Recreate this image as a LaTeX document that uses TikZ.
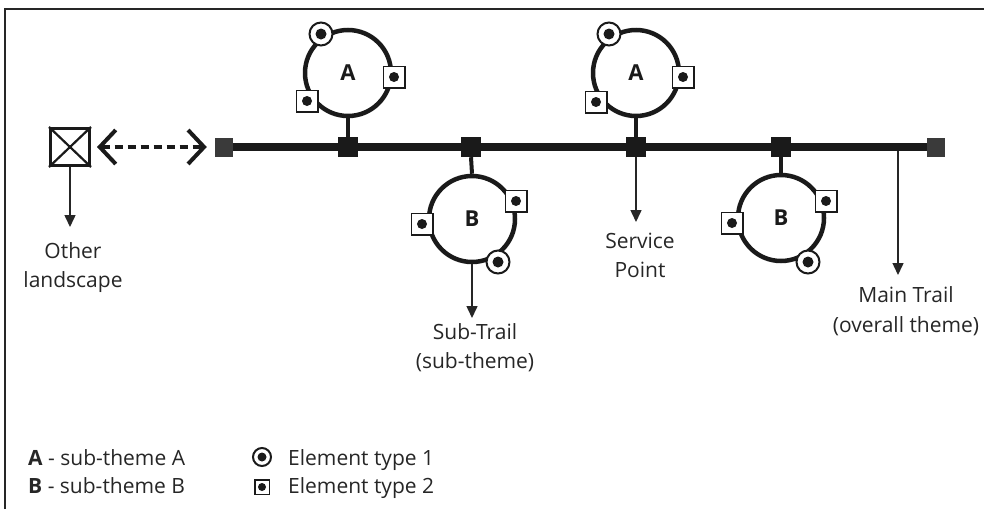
\documentclass[tikz,border=0pt]{standalone}
\usepackage{fontspec}
\setmainfont{Open Sans}
\usetikzlibrary{arrows.meta}
\definecolor{ink}{HTML}{1A1A1A}
\definecolor{txt}{HTML}{262626}
\definecolor{endc}{HTML}{3A3A3A}
\tikzset{
 lbl/.style={font=\fontsize{21}{29}\selectfont, text=txt, inner sep=0pt, anchor=base},
 trail/.style={line width=8pt, draw=ink},
 junc/.style={rectangle, fill=ink, minimum size=20pt, inner sep=0pt},
 endsq/.style={rectangle, fill=endc, minimum width=18pt, minimum height=19pt, inner sep=0pt},
 theme/.style={circle, draw=ink, line width=4.5pt, minimum size=86pt, inner sep=0pt, text=ink,
   font=\fontsize{22}{29}\selectfont\bfseries},
 stem/.style={line width=4pt, draw=ink},
 elone/.style={circle, draw=ink, fill=white, line width=2pt, minimum size=23pt, inner sep=0pt,
   path picture={\fill[ink] (path picture bounding box.center) circle (5.5pt);}},
 eltwo/.style={rectangle, draw=ink, fill=white, line width=1.5pt, minimum size=21.5pt, inner sep=0pt,
   path picture={\fill[ink] (path picture bounding box.center) circle (5pt);}},
 legone/.style={circle, draw=ink, fill=white, line width=2pt, minimum size=18pt, inner sep=0pt,
   path picture={\fill[ink] (path picture bounding box.center) circle (4.5pt);}},
 legtwo/.style={rectangle, draw=ink, fill=white, line width=1.5pt, minimum size=14.5pt, inner sep=0pt,
   path picture={\fill[ink] (path picture bounding box.center) circle (4pt);}},
 xbox/.style={rectangle, draw=ink, line width=3pt, minimum width=39pt, minimum height=37pt, inner sep=0pt},
 arr/.style={draw=txt, line width=1.5pt, -{Triangle[length=12pt,width=11pt]}},
 dashar/.style={draw=ink, line width=4pt, dash pattern=on 8pt off 5pt,
   {Straight Barb[length=16pt,width=34pt]}-{Straight Barb[length=16pt,width=34pt]}},
 frame/.style={draw=txt, line width=2pt}
}
\begin{document}
\begin{tikzpicture}[x=1pt,y=-1pt]
\useasboundingbox (0,0) rectangle (984,509);
% frame
\draw[frame] (5,509) -- (5,9) -- (984,9);

% main trail
\node[endsq] (endL) at (224,147) {};
\node[endsq] (endR) at (936,147) {};
\draw[trail] (endL) -- (endR);
\node[junc] (j1) at (348,147) {};
\node[junc] (j2) at (471,147) {};
\node[junc] (j3) at (636,147) {};
\node[junc] (j4) at (781,147) {};

% sub-trails
\node[theme] (A1) at (348,73) {\raisebox{-3pt}{A}};
\node[theme] (A2) at (636,73) {\raisebox{-3pt}{A}};
\node[theme] (B1) at (472,219) {\raisebox{-3pt}{B}};
\node[theme] (B2) at (781,218) {\raisebox{-3pt}{B}};
\draw[stem] (A1.south) -- (j1.north);
\draw[stem] (A2.south) -- (j3.north);
\draw[stem] (B1.north) -- (j2.south);
\draw[stem] (B2.north) -- (j4.south);

% elements
\node[elone] (a1e1) at (321,34) {};
\node[eltwo] (a1e2) at (394,77) {};
\node[eltwo] (a1e3) at (307,101) {};
\node[elone] (a2e1) at (609,34) {};
\node[eltwo] (a2e2) at (683,77) {};
\node[eltwo] (a2e3) at (596,102) {};
\node[eltwo] (b1e2) at (516,201) {};
\node[eltwo] (b1e3) at (422,224) {};
\node[elone] (b1e1) at (498,262) {};
\node[eltwo] (b2e2) at (826,201) {};
\node[eltwo] (b2e3) at (732,223) {};
\node[elone] (b2e1) at (808,262) {};

% other landscape
\node[xbox] (box) at (70,147) {};
\draw[ink, line width=2.2pt] (box.north west) -- (box.south east);
\draw[ink, line width=2.2pt] (box.south west) -- (box.north east);
\draw[dashar, shorten <=6pt, shorten >=8pt] (box.east) -- (endL.west);

% label arrows
\coordinate (otip) at (70,227);
\coordinate (sptip) at (636,222);
\coordinate (sttip) at (472,318);
\coordinate (mt) at (898,151);
\coordinate (mttip) at (898,275);
\draw[arr] (box.south) -- (otip);
\draw[arr] (j3.south) -- (sptip);
\draw[arr] (B1.south) -- (sttip);
\draw[arr] (mt) -- (mttip);

% labels
\node[lbl] (ol1) at (73,258) {Other};
\node[lbl] (ol2) at (73,287) {landscape};
\node[lbl] (sp1) at (640,248) {Service};
\node[lbl] (sp2) at (640,277) {Point};
\node[lbl] (st1) at (475,339) {Sub-Trail};
\node[lbl] (st2) at (475,368) {(sub-theme)};
\node[lbl] (mt1) at (906,302) {Main Trail};
\node[lbl] (mt2) at (906,332) {(overall theme)};

% legend
\node[lbl, anchor=base west] (la) at (28,465) {\textbf{A} - sub-theme A};
\node[lbl, anchor=base west] (lb) at (28,493) {\textbf{B} - sub-theme B};
\node[legone] (le1) at (262,457) {};
\node[legtwo] (le2) at (262,487) {};
\node[lbl, anchor=base west] (lt1) at (288,465) {Element type 1};
\node[lbl, anchor=base west] (lt2) at (288,493) {Element type 2};
\end{tikzpicture}
\end{document}
